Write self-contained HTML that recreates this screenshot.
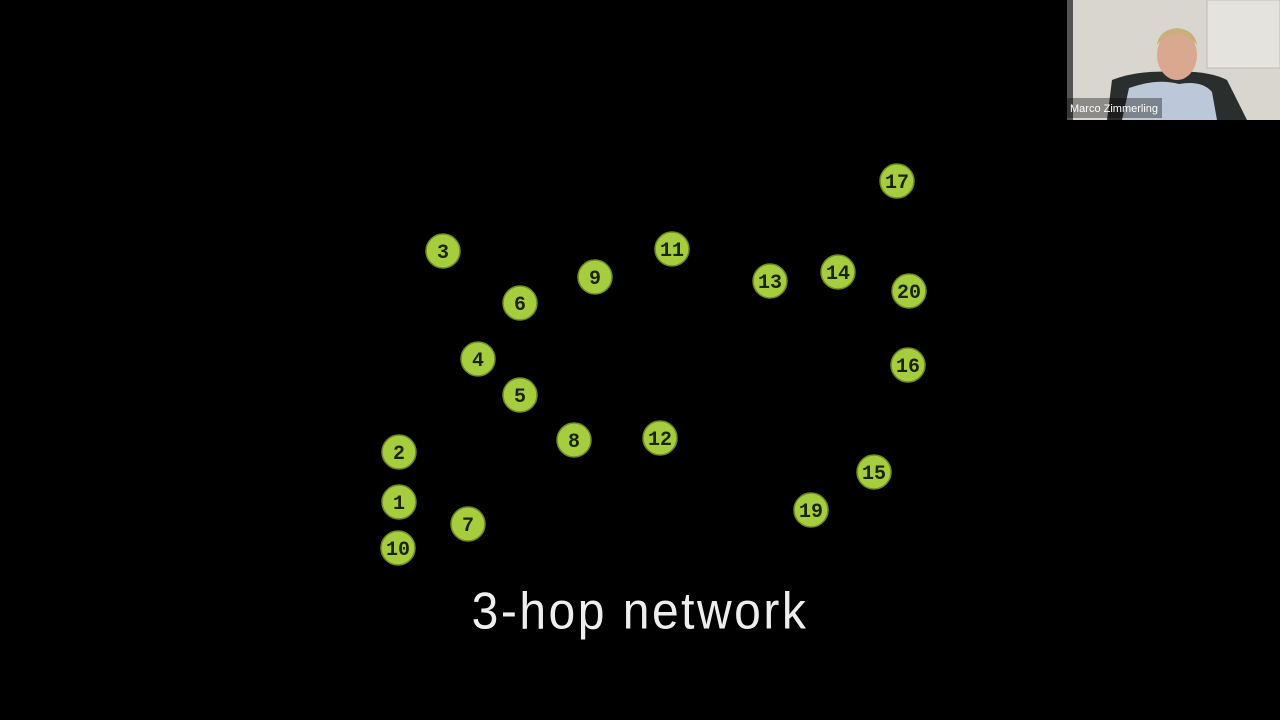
<!DOCTYPE html>
<html><head><meta charset="utf-8"><style>
html,body{margin:0;padding:0;background:#000;width:1280px;height:720px;overflow:hidden;font-family:"Liberation Sans",sans-serif}
#cam{position:absolute;left:1067px;top:0;width:213px;height:120px;background:#dcd9d2;overflow:hidden}
#title{position:absolute;left:0;width:1280px;top:582px;text-align:center;color:#eee;font-size:48px;letter-spacing:2.5px;transform:scaleY(1.08);transform-origin:center top}
</style></head><body>
<svg id="net" width="1280" height="720" style="position:absolute;left:0;top:0"></svg>
<div id="title">3-hop network</div>
<div id="cam">
<svg width="213" height="120">
<rect x="0" y="0" width="213" height="120" fill="#d8d6cf"/>
<rect x="0" y="0" width="6" height="120" fill="#555"/>
<rect x="140" y="0" width="73" height="68" fill="#e4e3de" stroke="#bbb"/>
<path d="M40 120 L45 80 Q70 70 105 72 Q140 70 160 80 L180 120 Z" fill="#2a2e2c"/>
<path d="M55 120 L62 88 Q90 78 112 84 Q135 80 145 92 L150 120 Z" fill="#bcc8d8"/>
<ellipse cx="110" cy="55" rx="20" ry="25" fill="#d9a88f"/>
<path d="M90 45 Q110 22 130 45 Q128 30 110 28 Q92 30 90 45Z" fill="#c9b07a"/>
<rect x="0" y="98" width="95" height="20" fill="rgba(0,0,0,0.35)"/>
<text x="3" y="112" fill="#fff" font-size="11" font-family="Liberation Sans">Marco Zimmerling</text>
</svg></div>
<script>
const nodeLabels=["17","3","11","9","13","14","20","6","4","16","5","8","12","2","15","1","19","7","10"];
const nodeX=[897,443,672,595,770,838,909,520,478,908,520,574,660,399,874,399,811,468,398];
const nodeY=[181,251,249,277,281,272,291,303,359,365,395,440,438,452,472,502,510,524,548];
const svg=document.getElementById('net');
const NS='http://www.w3.org/2000/svg';
for(let i=0;i<nodeLabels.length;i++){
 const g=document.createElementNS(NS,'g');
 
 
 const c=document.createElementNS(NS,'circle');
 c.setAttribute('cx',nodeX[i]);c.setAttribute('cy',nodeY[i]);c.setAttribute('r',17);
 c.setAttribute('fill','#a5cd3e');c.setAttribute('stroke','#6e8a22');c.setAttribute('stroke-width','1.5');
 const t=document.createElementNS(NS,'text');
 t.setAttribute('x',nodeX[i]);t.setAttribute('y',nodeY[i]+7);
 t.setAttribute('text-anchor','middle');t.setAttribute('font-size','20');
 t.setAttribute('font-family','Liberation Mono, monospace');t.setAttribute('font-weight','bold');
 t.setAttribute('fill','#1a2408');t.textContent=nodeLabels[i];
 g.appendChild(c);g.appendChild(t);svg.appendChild(g);
}
</script>
</body></html>
